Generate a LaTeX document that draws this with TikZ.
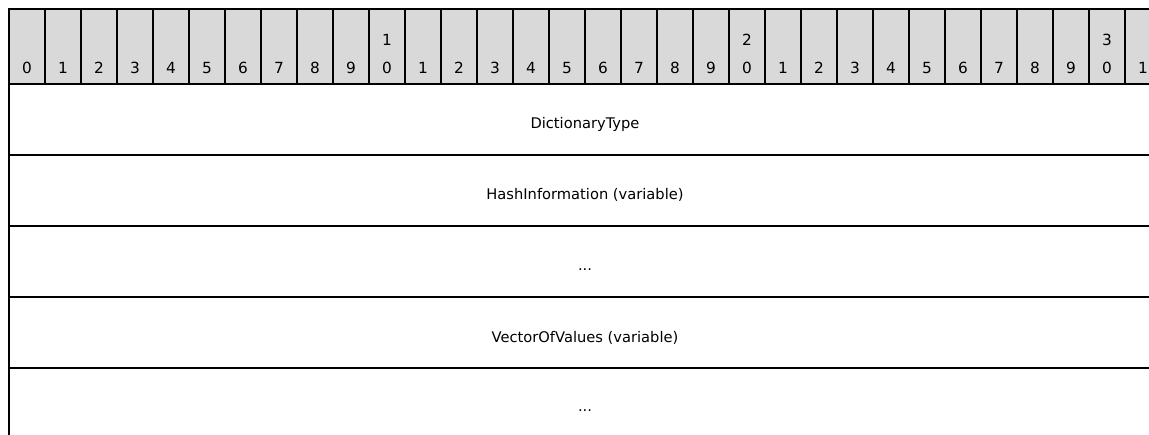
\documentclass[tikz,border=0pt]{standalone}
\usepackage{fontspec}
\setmainfont{DejaVu Sans}
\definecolor{headgray}{HTML}{D9D9D9}
\begin{document}
\begin{tikzpicture}[x=0.75pt,y=-0.75pt,
	bitcell/.style={draw,fill=headgray,line width=1.6pt},
	rowline/.style={line width=2pt},
	bitnum/.style={inner sep=0pt,font=\fontsize{11.5}{13}\selectfont},
	field/.style={inner sep=0pt,font=\fontsize{11}{13}\selectfont}]
	\useasboundingbox (0,0) rectangle (1149,435);
	\clip (0,0) rectangle (1149,435);

	% draw header cells
	\foreach \b in {0,...,31}
	{
		\draw[bitcell] (9+36*\b,9) rectangle (45+36*\b,84);
	}

	% draw bit numbers
	\foreach \b in {0,...,31}
	{
		\pgfmathtruncatemacro{\tens}{\b/10}
		\pgfmathtruncatemacro{\ones}{mod(\b,10)}
		\node[bitnum] (bit-\b) at (27+36*\b,68) {\ones};
		\ifnum\b>0 \ifnum\ones=0 \node[bitnum] (tens-\b) at (27+36*\b,40) {\tens}; \fi\fi
	}

	% draw row separators and left border
	\foreach \y in {155,226,297,368}
	{
		\draw[rowline] (9,\y) -- (1161,\y);
	}
	\draw[rowline] (9,84) -- (9,440);

	% draw field names
	\node[field] (dicttype) at (585,124) {DictionaryType};
	\node[field] (hashinfo) at (585,195) {HashInformation (variable)};
	\node[field] (hashmore) at (585,270) {...};
	\node[field] (vecvalues) at (585,338) {VectorOfValues (variable)};
	\node[field] (vecmore) at (585,411) {...};
\end{tikzpicture}
\end{document}
